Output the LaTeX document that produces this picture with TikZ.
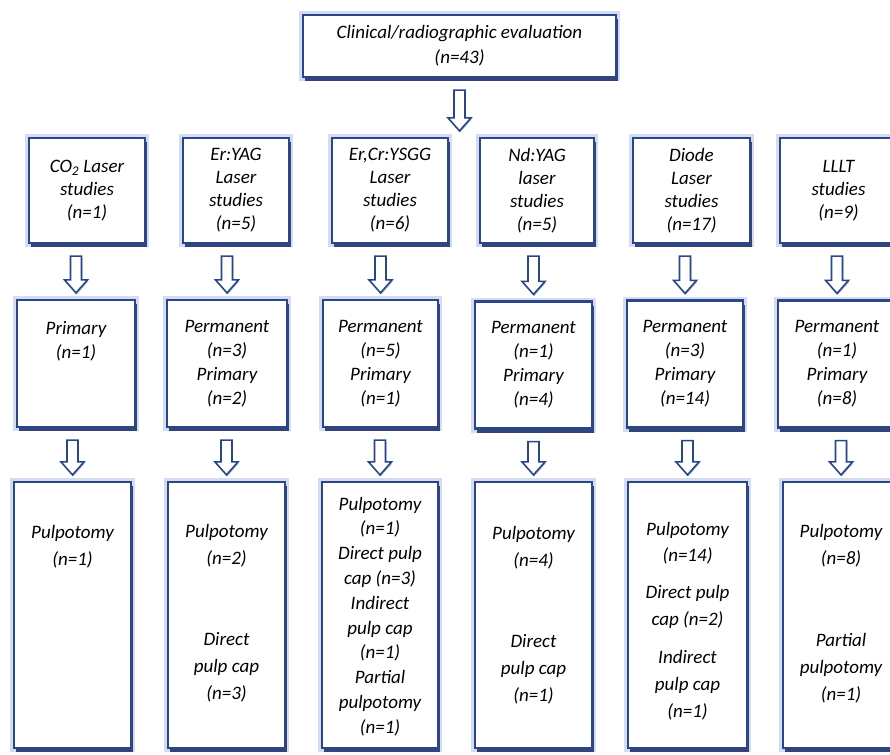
\documentclass[tikz,border=0pt]{standalone}
\usepackage{fontspec}
\setmainfont{Carlito}
\usepackage{tikz}
\usetikzlibrary{calc,shadows}

\definecolor{boxblue}{RGB}{40,70,136}
\definecolor{shadeblue}{RGB}{24,42,100}
\definecolor{glowblue}{RGB}{110,140,205}

% hollow block arrow between two anchors (x taken from the second one)
\newcommand{\blockarr}[2]{%
  \coordinate (arrs) at ($(#2 |- #1)+(0,12)$);
  \coordinate (arrt) at ($(#2)+(0,-6)$);
  \draw[flowarrow] ($(arrs)+(-5.5,0)$) -- ($(arrt)+(-5.5,-13)$) -- ($(arrt)+(-11.5,-13)$)
    -- (arrt) -- ($(arrt)+(11.5,-13)$) -- ($(arrt)+(5.5,-13)$) -- ($(arrs)+(5.5,0)$) -- cycle;
}

\begin{document}
\begin{tikzpicture}[x=1pt,y=-1pt,
    box/.style={draw=boxblue, line width=2.2pt, fill=white, inner sep=0pt,
      preaction={draw=glowblue, line width=8pt, opacity=.3},
      drop shadow={shadow xshift=1.5pt, shadow yshift=-4pt, fill=shadeblue, opacity=.85}},
    txt/.style={font=\itshape\fontsize{19}{23}\selectfont, align=center, inner sep=0pt},
    flowarrow/.style={draw=boxblue, line width=1.6pt, fill=white, line join=miter,
      drop shadow={shadow xshift=.8pt, shadow yshift=-1.5pt, fill=glowblue, opacity=.6}}]
    \useasboundingbox (0,0) rectangle (890,754);

    % Evaluation
    \node[box, txt, minimum width=313, minimum height=62, font=\itshape\fontsize{19}{25}\selectfont] (top) at (459.5,46)
      {Clinical/radiographic evaluation\\(n=43)};

    % Laser studies
    \node[box, txt, minimum width=116, minimum height=105] (c1a) at (87,190.5) {CO\textsubscript{2} Laser\\studies\\(n=1)};
    \node[box, txt, minimum width=106, minimum height=105] (c2a) at (236,190.5) {Er:YAG\\Laser\\studies\\(n=5)};
    \node[box, txt, minimum width=116, minimum height=105] (c3a) at (390,190.5) {Er,Cr:YSGG\\Laser\\studies\\(n=6)};
    \node[box, txt, minimum width=114, minimum height=105] (c4a) at (537,190.5) {Nd:YAG\\laser\\studies\\(n=5)};
    \node[box, txt, minimum width=117, minimum height=105] (c5a) at (691.5,190.5) {Diode\\Laser\\studies\\(n=17)};
    \node[box, txt, minimum width=117, minimum height=105] (c6a) at (838.5,190.5) {LLLT\\studies\\(n=9)};

    % Dentition
    \node[box, minimum width=118, minimum height=127] (c1b) at (76,363.5) {};
    \node[txt, font=\itshape\fontsize{19}{24}\selectfont] (t1b) at (76,341) {Primary\\(n=1)};
    \node[box, txt, minimum width=120, minimum height=127, font=\itshape\fontsize{19}{24}\selectfont] (c2b) at (227,363.5) {Permanent\\(n=3)\\Primary\\(n=2)};
    \node[box, txt, minimum width=115, minimum height=127, font=\itshape\fontsize{19}{24}\selectfont] (c3b) at (380.5,363.5) {Permanent\\(n=5)\\Primary\\(n=1)};
    \node[box, txt, minimum width=117, minimum height=127, font=\itshape\fontsize{19}{24}\selectfont] (c4b) at (533.5,365) {Permanent\\(n=1)\\Primary\\(n=4)};
    \node[box, txt, minimum width=116, minimum height=127, font=\itshape\fontsize{19}{24}\selectfont] (c5b) at (685,364) {Permanent\\(n=3)\\Primary\\(n=14)};
    \node[box, txt, minimum width=118, minimum height=127, font=\itshape\fontsize{19}{24}\selectfont] (c6b) at (837,364) {Permanent\\(n=1)\\Primary\\(n=8)};

    % Treatments
    \node[box, minimum width=117, minimum height=266] (c1c) at (72.5,615) {};
    \node[box, minimum width=117, minimum height=266] (c2c) at (226.5,615) {};
    \node[box, minimum width=116, minimum height=266] (c3c) at (380,615) {};
    \node[box, minimum width=117, minimum height=266] (c4c) at (533.5,615) {};
    \node[box, minimum width=119, minimum height=266] (c5c) at (687.5,615) {};
    \node[box, minimum width=116, minimum height=266] (c6c) at (841,615) {};

    \node[txt, font=\itshape\fontsize{19}{27}\selectfont] (t1c) at (72.5,547) {Pulpotomy\\(n=1)};
    \node[txt, font=\itshape\fontsize{19}{27}\selectfont] (t2c) at (226.5,545.5) {Pulpotomy\\(n=2)};
    \node[txt, font=\itshape\fontsize{19}{27}\selectfont] (u2c) at (226.5,667.5) {Direct\\pulp cap\\(n=3)};
    \node[txt, font=\itshape\fontsize{19}{24.8}\selectfont] (t3c) at (380,616.5)
      {Pulpotomy\\(n=1)\\Direct pulp\\cap (n=3)\\Indirect\\pulp cap\\(n=1)\\Partial\\pulpotomy\\(n=1)};
    \node[txt, font=\itshape\fontsize{19}{27}\selectfont] (t4c) at (533.5,547.5) {Pulpotomy\\(n=4)};
    \node[txt, font=\itshape\fontsize{19}{27}\selectfont] (u4c) at (533.5,669) {Direct\\pulp cap\\(n=1)};
    \node[txt, font=\itshape\fontsize{19}{26}\selectfont] (t5c) at (687.5,543) {Pulpotomy\\(n=14)};
    \node[txt, font=\itshape\fontsize{19}{27}\selectfont] (u5c) at (687.5,606.5) {Direct pulp\\cap (n=2)};
    \node[txt, font=\itshape\fontsize{19}{27}\selectfont] (v5c) at (687.5,685) {Indirect\\pulp cap\\(n=1)};
    \node[txt, font=\itshape\fontsize{19}{27}\selectfont] (t6c) at (841,545.5) {Pulpotomy\\(n=8)};
    \node[txt, font=\itshape\fontsize{19}{27}\selectfont] (u6c) at (841,668.5) {Partial\\pulpotomy\\(n=1)};

    % Arrows
    \coordinate (split) at (top.south |- c3a.north);
    \blockarr{top.south}{split}
    \blockarr{c1a.south}{c1b.north}
    \blockarr{c2a.south}{c2b.north}
    \blockarr{c3a.south}{c3b.north}
    \blockarr{c4a.south}{c4b.north}
    \blockarr{c5a.south}{c5b.north}
    \blockarr{c6a.south}{c6b.north}
    \blockarr{c1b.south}{c1c.north}
    \blockarr{c2b.south}{c2c.north}
    \blockarr{c3b.south}{c3c.north}
    \blockarr{c4b.south}{c4c.north}
    \blockarr{c5b.south}{c5c.north}
    \blockarr{c6b.south}{c6c.north}
\end{tikzpicture}
\end{document}
